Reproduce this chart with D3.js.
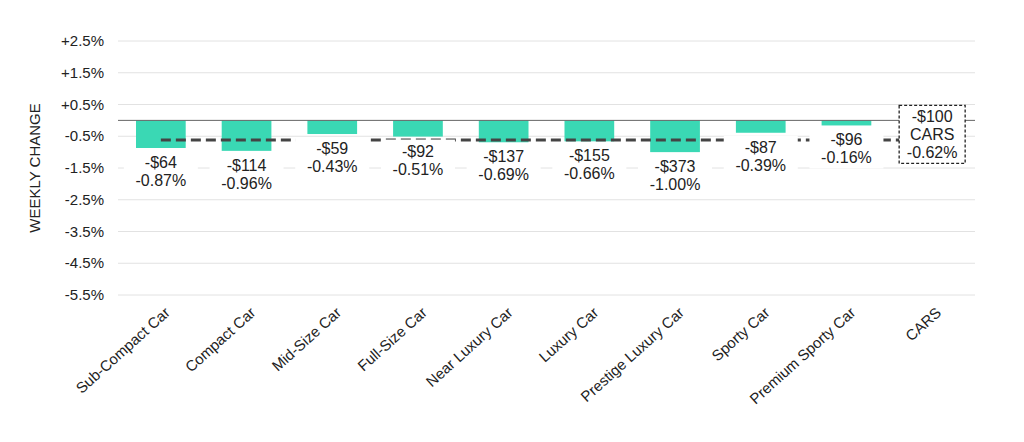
<!DOCTYPE html>
<html><head><meta charset="utf-8">
<script src="https://cdn.jsdelivr.net/npm/d3@7"></script>
<style>body{margin:0;background:#fff;font-family:Arial,"Liberation Sans",sans-serif}</style>
</head><body><svg id="c" width="1024" height="442"></svg>
<script>
var categories = ["Sub-Compact Car","Compact Car","Mid-Size Car","Full-Size Car","Near Luxury Car","Luxury Car","Prestige Luxury Car","Sporty Car","Premium Sporty Car","CARS"];
var pctChange = [-0.87,-0.96,-0.43,-0.51,-0.69,-0.66,-1.00,-0.39,-0.16,null];
var dollarChange = ["-$64","-$114","-$59","-$92","-$137","-$155","-$373","-$87","-$96","-$100"];
var pctLabels = ["-0.87%","-0.96%","-0.43%","-0.51%","-0.69%","-0.66%","-1.00%","-0.39%","-0.16%","-0.62%"];
var carsAvg = -0.62;
var yTicks = [2.5,1.5,0.5,-0.5,-1.5,-2.5,-3.5,-4.5,-5.5];

var svg = d3.select("#c");
var x = d3.scaleBand().domain(categories).range([118,975]).paddingInner(0.42).paddingOuter(0.21);
var y = d3.scaleLinear().domain([-5.5,2.5]).range([295,41]);

// grid
svg.selectAll(".g").data(yTicks).enter().append("line")
  .attr("x1",118).attr("x2",975).attr("y1",d=>y(d)).attr("y2",d=>y(d))
  .attr("stroke","#e2e2e2");
svg.selectAll(".t").data(yTicks).enter().append("text")
  .attr("x",104).attr("y",d=>y(d)+5).attr("text-anchor","end")
  .attr("font-size",15).attr("fill","#222")
  .text(d=>(d>0?"+":"")+d.toFixed(1)+"%");
svg.append("text").attr("transform","translate(40,"+y(-1.5)+") rotate(-90)")
  .attr("text-anchor","middle").attr("font-size",15).attr("fill","#222").text("WEEKLY CHANGE");

// bars
var barData = categories.map((c,i)=>({c:c,v:pctChange[i],d:dollarChange[i],p:pctLabels[i]}));
svg.selectAll(".b").data(barData.filter(d=>d.v!=null)).enter().append("rect")
  .attr("x",d=>x(d.c)).attr("width",x.bandwidth())
  .attr("y",y(0)).attr("height",d=>y(d.v)-y(0)).attr("fill","#3ad8b4");

// zero line
svg.append("line").attr("x1",118).attr("x2",975).attr("y1",y(0)).attr("y2",y(0)).attr("stroke","#666");

// average dashed line
svg.append("line").attr("x1",x(categories[0])+x.bandwidth()/2).attr("x2",x("CARS"))
  .attr("y1",y(carsAvg)).attr("y2",y(carsAvg))
  .attr("stroke","#444").attr("stroke-width",3).attr("stroke-dasharray","10,5");

// labels
barData.forEach(function(d){
  var cx = x(d.c)+x.bandwidth()/2;
  var top = d.v!=null ? y(d.v)+3 : y(0)-15;
  var lines = d.v!=null ? [d.d,d.p] : [d.d,"CARS",d.p];
  var h = lines.length*18+4, w = d.v!=null ? 74 : 66;
  svg.append("rect").attr("x",cx-w/2).attr("y",top).attr("width",w).attr("height",h)
    .attr("fill","#fff")
    .attr("stroke",d.v!=null?"none":"#222").attr("stroke-dasharray","3,2").attr("stroke-width",1.3);
  lines.forEach(function(t,j){
    svg.append("text").attr("x",cx).attr("y",top+17+j*18).attr("text-anchor","middle")
      .attr("font-size",16).attr("fill","#222").text(t);
  });
});

// x axis labels
svg.selectAll(".xl").data(categories).enter().append("text")
  .attr("transform",d=>"translate("+(x(d)+x.bandwidth()/2+10)+",314) rotate(-42)")
  .attr("text-anchor","end").attr("font-size",15).attr("fill","#222").text(d=>d);
</script></body></html>
